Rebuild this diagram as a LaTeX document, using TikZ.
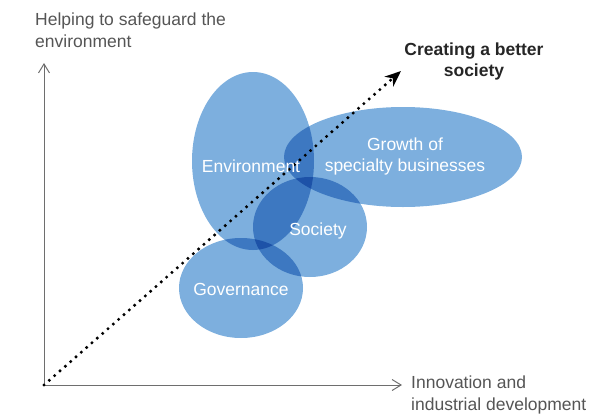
\documentclass[tikz,border=0pt]{standalone}
\usepackage{fontspec}
\setmainfont{Liberation Sans}
\usetikzlibrary{arrows.meta, shapes.geometric}

\definecolor{axisgray}{RGB}{110,110,110}
\definecolor{labelgray}{RGB}{85,85,85}
\definecolor{bubbleblue}{RGB}{125,175,222}

\tikzset{
	axis/.style = {draw = axisgray, line width = 1pt, -{Straight Barb[length=9pt, width=11pt, line width=1pt]}},
	bubble/.style = {ellipse, fill = bubbleblue, draw = none, inner sep = 0pt},
	bubbletext/.style = {text = white, font = \fontsize{17.5}{21}\selectfont, align = center, inner sep = 0pt},
	axislabel/.style = {text = labelgray, font = \fontsize{17.5}{22}\selectfont, align = left, inner sep = 0pt, anchor = north west},
}

\begin{document}
\begin{tikzpicture}[x = 1pt, y = -1pt]
		%frame of the picture
		\useasboundingbox (0,0) rectangle (614,418);
		
		%definition of origin and axis ends
		\coordinate (O) at (44,385);
		\coordinate (yEnd) at (44,63);
		\coordinate (xEnd) at (402,385);
		\coordinate (goal) at (401,71);
		
		%axes
		\draw [axis] (O) -- (yEnd);
		\draw [axis] (O) -- (xEnd);
		\node [axislabel] (yLabel) at (35,13) {Helping to safeguard the\\environment};
		\node [axislabel] (xLabel) at (411,376) {Innovation and\\industrial development};
		
		%bubbles, overlaps darken by multiplying
		\begin{scope}[blend group = multiply]
			\node [bubble, minimum width = 122, minimum height = 178] (env) at (253,161) {};
			\node [bubble, minimum width = 238, minimum height = 100] (growth) at (403,157) {};
			\node [bubble, minimum width = 114, minimum height = 100] (soc) at (310,227) {};
			\node [bubble, minimum width = 124, minimum height = 100] (gov) at (241,288) {};
		\end{scope}
		
		%dotted arrow
		\draw [line width = 3.4pt, line cap = round, dash pattern = on 0pt off 7.1pt, -{Stealth[length=16pt, width=13pt, inset=5pt]}] (O) -- (goal);
		\node [font = \fontsize{17.5}{21}\selectfont\bfseries, text = black!85, align = center, inner sep = 0pt, anchor = north] (goalLabel) at (474,43) {Creating a better\\society};
		
		%bubble labels
		\node [bubbletext, anchor = base] (envText) at (251,172) {Environment};
		\node [bubbletext] (growthText) at (405,156) {Growth of\\specialty businesses};
		\node [bubbletext, anchor = base] (socText) at (318,235) {Society};
		\node [bubbletext, anchor = base] (govText) at (241,295) {Governance};
	\end{tikzpicture}
\end{document}
